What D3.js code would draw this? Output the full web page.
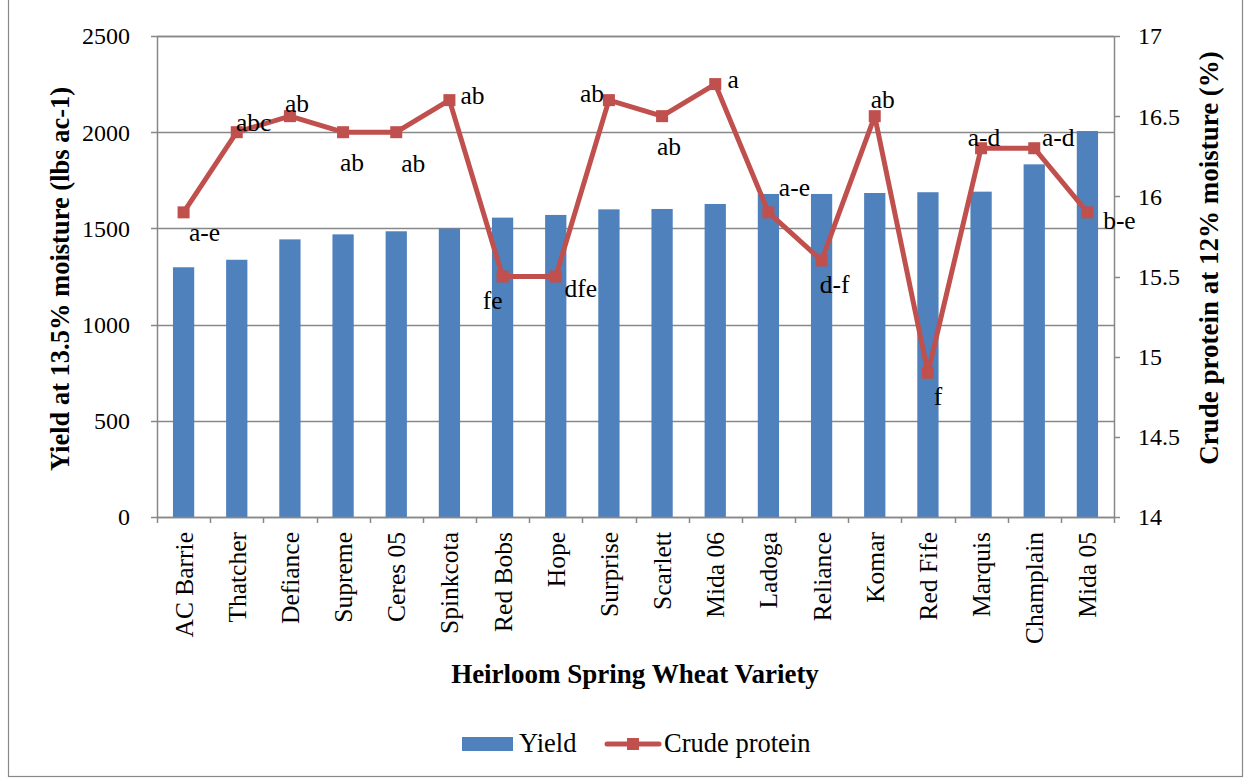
<!DOCTYPE html>
<html>
<head>
<meta charset="utf-8">
<script src="https://cdn.jsdelivr.net/npm/d3@7"></script>
<style>
  body { margin: 0; background: #fff; }
  text { font-family: "Liberation Serif", "Times New Roman", serif; fill: #000; }
</style>
</head>
<body>
<svg id="chart" width="1250" height="778"></svg>
<script>
// varieties, sorted by yield
var varieties = ["AC Barrie", "Thatcher", "Defiance", "Supreme", "Ceres 05", "Spinkcota",
  "Red Bobs", "Hope", "Surprise", "Scarlett", "Mida 06", "Ladoga", "Reliance", "Komar",
  "Red Fife", "Marquis", "Champlain", "Mida 05"];
var yieldVals = [1298, 1337, 1443, 1469, 1485, 1499, 1556, 1570, 1599, 1601, 1627, 1679,
  1679, 1684, 1688, 1691, 1833, 2006];
var proteinVals = [15.9, 16.4, 16.5, 16.4, 16.4, 16.6, 15.5, 15.5, 16.6, 16.5, 16.7, 15.9,
  15.6, 16.5, 14.9, 16.3, 16.3, 15.9];
var letters = ["a-e", "abc", "ab", "ab", "ab", "ab", "fe", "dfe", "ab", "ab", "a", "a-e",
  "d-f", "ab", "f", "a-d", "a-d", "b-e"];
var yieldTicks = [0, 500, 1000, 1500, 2000, 2500];
var proteinTicks = [14, 14.5, 15, 15.5, 16, 16.5, 17];

// where each letter sits relative to its marker (pixels)
var labelOffset = [[21, 20], [17, -10], [7, -13], [9, 30], [17, 31], [23, -5], [-10, 24],
  [25, 12], [-17, -7], [7, 30], [18, -5], [26, -25], [13, 24], [8, -17], [10, 23],
  [3, -11], [24, -11], [32, 8]];

var blue = "#4f81bd", red = "#c0504d", grid = "#888888";
var serif = "'Liberation Serif', 'Times New Roman', serif";

var svg = d3.select("#chart");
var margin = { left: 157, right: 136, top: 36, bottom: 261 };
var W = 1250 - margin.left - margin.right;
var H = 778 - margin.top - margin.bottom;

// outer frame
svg.append("rect")
  .attr("x", 8.5).attr("y", -1).attr("width", 1234).attr("height", 777.5)
  .style("fill", "none").style("stroke", grid).style("stroke-width", 1.2);

var g = svg.append("g").attr("transform", "translate(" + margin.left + "," + margin.top + ")");

var x = d3.scaleBand().domain(varieties).range([0, W]).paddingInner(0.6).paddingOuter(0.3);
var xStep = d3.scaleBand().domain(varieties).range([0, W]);
var yL = d3.scaleLinear().domain([0, 2500]).range([H, 0]);
var yR = d3.scaleLinear().domain([14, 17]).range([H, 0]);

// gridlines
g.selectAll("line.grid").data(yieldTicks).enter().append("line")
  .attr("class", "grid")
  .attr("x1", -6).attr("x2", W)
  .attr("y1", function (d) { return Math.round(yL(d)) + 0.5; })
  .attr("y2", function (d) { return Math.round(yL(d)) + 0.5; })
  .style("stroke", grid).style("stroke-width", 1.5);

// right axis ticks
g.selectAll("line.rtick").data(proteinTicks).enter().append("line")
  .attr("x1", W).attr("x2", W + 6)
  .attr("y1", function (d) { return Math.round(yR(d)) + 0.5; })
  .attr("y2", function (d) { return Math.round(yR(d)) + 0.5; })
  .style("stroke", grid).style("stroke-width", 1.5);

// bars
g.selectAll("rect.bar").data(varieties).enter().append("rect")
  .attr("class", "bar")
  .attr("x", function (d) { return x(d); })
  .attr("width", x.bandwidth())
  .attr("y", function (d, i) { return yL(yieldVals[i]); })
  .attr("height", function (d, i) { return H - yL(yieldVals[i]); })
  .style("fill", blue);

// axis lines
g.append("line").attr("x1", 0.5).attr("x2", 0.5).attr("y1", 0).attr("y2", H)
  .style("stroke", grid).style("stroke-width", 1.5);
g.append("line").attr("x1", W + 0.5).attr("x2", W + 0.5).attr("y1", 0).attr("y2", H)
  .style("stroke", grid).style("stroke-width", 1.5);
g.append("line").attr("x1", 0).attr("x2", W).attr("y1", H + 0.5).attr("y2", H + 0.5)
  .style("stroke", grid).style("stroke-width", 1.5);
g.append("line").attr("x1", 0).attr("x2", W).attr("y1", 0.5).attr("y2", 0.5)
  .style("stroke", grid).style("stroke-width", 1.5);

// category tick marks
var bounds = varieties.map(function (d) { return xStep(d); }).concat([W]);
g.selectAll("line.xtick").data(bounds).enter().append("line")
  .attr("x1", function (d) { return Math.round(d) + 0.5; })
  .attr("x2", function (d) { return Math.round(d) + 0.5; })
  .attr("y1", H).attr("y2", H + 6)
  .style("stroke", grid).style("stroke-width", 1.5);

// tick labels
g.selectAll("text.yl").data(yieldTicks).enter().append("text")
  .attr("x", -27).attr("y", function (d) { return yL(d); }).attr("dy", "0.35em")
  .attr("text-anchor", "end").attr("font-family", serif).style("font-size", "24px")
  .text(function (d) { return d; });
g.selectAll("text.yr").data(proteinTicks).enter().append("text")
  .attr("x", W + 24).attr("y", function (d) { return yR(d); }).attr("dy", "0.35em")
  .attr("font-family", serif).style("font-size", "24px")
  .text(function (d) { return d; });
g.selectAll("text.cat").data(varieties).enter().append("text")
  .attr("transform", function (d) {
    return "translate(" + (x(d) + x.bandwidth() / 2) + "," + (H + 15) + ") rotate(-90)";
  })
  .attr("dy", "0.35em").attr("text-anchor", "end")
  .attr("font-family", serif).style("font-size", "25.5px")
  .text(function (d) { return d; });

// axis titles
svg.append("text")
  .attr("transform", "translate(69," + (margin.top + 243) + ") rotate(-90)")
  .attr("text-anchor", "middle").attr("font-family", serif)
  .style("font-size", "26.5px").style("font-weight", "bold")
  .text("Yield at 13.5% moisture (lbs ac-1)");
svg.append("text")
  .attr("transform", "translate(1218," + (margin.top + 222) + ") rotate(-90)")
  .attr("text-anchor", "middle").attr("font-family", serif)
  .style("font-size", "27px").style("font-weight", "bold")
  .text("Crude protein at 12% moisture (%)");
svg.append("text")
  .attr("x", 635).attr("y", 683)
  .attr("text-anchor", "middle").attr("font-family", serif)
  .style("font-size", "27px").style("font-weight", "bold")
  .text("Heirloom Spring Wheat Variety");

// protein line
var line = d3.line()
  .x(function (d, i) { return x(varieties[i]) + x.bandwidth() / 2; })
  .y(function (d) { return yR(d); });
g.append("path").datum(proteinVals)
  .attr("d", line)
  .style("fill", "none").style("stroke", red).style("stroke-width", 5)
  .style("stroke-linejoin", "round");
g.selectAll("rect.mk").data(proteinVals).enter().append("rect")
  .attr("x", function (d, i) { return x(varieties[i]) + x.bandwidth() / 2 - 6; })
  .attr("y", function (d) { return yR(d) - 6; })
  .attr("width", 12).attr("height", 12)
  .style("fill", red);

// letter labels
g.selectAll("text.lt").data(letters).enter().append("text")
  .attr("x", function (d, i) { return x(varieties[i]) + x.bandwidth() / 2 + labelOffset[i][0]; })
  .attr("y", function (d, i) { return yR(proteinVals[i]) + labelOffset[i][1]; })
  .attr("dy", "0.35em").attr("text-anchor", "middle")
  .attr("font-family", serif).style("font-size", "25.5px")
  .text(function (d) { return d; });

// legend
var lg = svg.append("g");
lg.append("rect").attr("x", 462).attr("y", 737).attr("width", 51).attr("height", 14)
  .style("fill", blue);
lg.append("text").attr("x", 519).attr("y", 752).attr("font-family", serif)
  .style("font-size", "26.5px").text("Yield");
lg.append("line").attr("x1", 607).attr("x2", 659).attr("y1", 744).attr("y2", 744)
  .style("stroke", red).style("stroke-width", 5).style("stroke-linecap", "round");
lg.append("rect").attr("x", 627).attr("y", 738).attr("width", 12).attr("height", 12)
  .style("fill", red);
lg.append("text").attr("x", 664).attr("y", 752).attr("font-family", serif)
  .style("font-size", "26.5px").text("Crude protein");
</script>
</body>
</html>
